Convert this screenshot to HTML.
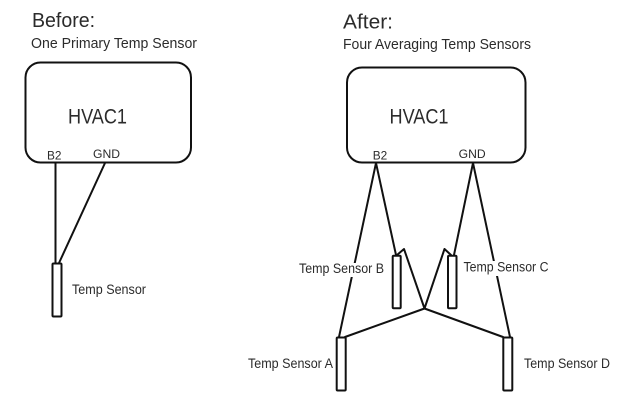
<!DOCTYPE html>
<html lang="en">
<head>
<meta charset="utf-8">
<title>Before and After Temp Sensor Wiring</title>
<style>
html,body{margin:0;padding:0;background:#fff;width:623px;height:409px;overflow:hidden}
svg{display:block}
text{font-family:"Liberation Sans",sans-serif;fill:#2b2b2b}
.l{fill:none;stroke:#111;stroke-width:2;stroke-linejoin:round;stroke-linecap:round}
.s{fill:#fff;stroke:#111;stroke-width:2}
</style>
</head>
<body>
<svg width="623" height="409" viewBox="0 0 623 409" xmlns="http://www.w3.org/2000/svg">
<rect width="623" height="409" fill="#fff"/>

<!-- Before -->
<rect class="l" x="25.5" y="62.5" width="165.5" height="100" rx="15" ry="15"/>
<path class="l" d="M55.5 163V263M105 163L59 263"/>
<rect class="s" x="52.5" y="263.5" width="9" height="53" rx="1"/>

<text x="32" y="27" font-size="20" textLength="63" lengthAdjust="spacingAndGlyphs">Before:</text>
<text x="31" y="48" font-size="15" textLength="166" lengthAdjust="spacingAndGlyphs">One Primary Temp Sensor</text>
<text x="68" y="123.5" font-size="21" textLength="59" lengthAdjust="spacingAndGlyphs">HVAC1</text>
<text x="47" y="159.5" font-size="12" textLength="14.5" lengthAdjust="spacingAndGlyphs">B2</text>
<text x="93" y="158" font-size="12" textLength="27" lengthAdjust="spacingAndGlyphs">GND</text>
<text x="72" y="294" font-size="13.5" textLength="74" lengthAdjust="spacingAndGlyphs">Temp Sensor</text>

<!-- After -->
<rect class="l" x="347" y="67.5" width="178.5" height="95" rx="15" ry="15"/>
<path class="l" d="M376 163L339 337M376 163L396 255"/>
<path class="l" d="M473 163L454 255M473 163L510 337"/>
<path class="l" d="M345 337L424.5 308.5L503 337"/>
<path class="l" d="M397 255L404 249L424.5 308.5L444.5 249L451 255"/>

<rect class="s" x="392.7" y="255.7" width="8" height="52.5" rx="1"/>
<rect class="s" x="448" y="255.7" width="8.5" height="52.5" rx="1"/>
<rect class="s" x="336.7" y="337.5" width="9" height="53" rx="1"/>
<rect class="s" x="503.3" y="337.5" width="9" height="53" rx="1"/>

<rect x="298" y="263" width="87" height="14" fill="#fff"/>
<rect x="463" y="261" width="86" height="15" fill="#fff"/>

<text x="343" y="28.5" font-size="20" textLength="50" lengthAdjust="spacingAndGlyphs">After:</text>
<text x="343" y="49" font-size="15" textLength="188" lengthAdjust="spacingAndGlyphs">Four Averaging Temp Sensors</text>
<text x="389.5" y="123.5" font-size="21" textLength="59" lengthAdjust="spacingAndGlyphs">HVAC1</text>
<text x="372.7" y="159.5" font-size="12" textLength="14.5" lengthAdjust="spacingAndGlyphs">B2</text>
<text x="458.7" y="158" font-size="12" textLength="27" lengthAdjust="spacingAndGlyphs">GND</text>
<text x="299" y="273" font-size="13.5" textLength="85" lengthAdjust="spacingAndGlyphs">Temp Sensor B</text>
<text x="463.5" y="271.7" font-size="13.5" textLength="85" lengthAdjust="spacingAndGlyphs">Temp Sensor C</text>
<text x="248" y="368" font-size="13.5" textLength="85" lengthAdjust="spacingAndGlyphs">Temp Sensor A</text>
<text x="524" y="368" font-size="13.5" textLength="86" lengthAdjust="spacingAndGlyphs">Temp Sensor D</text>
</svg>
</body>
</html>
